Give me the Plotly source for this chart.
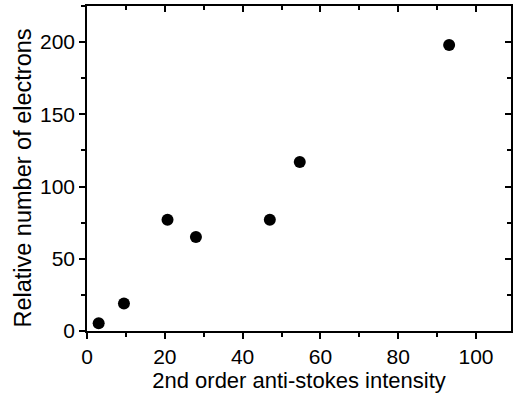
import plotly.graph_objects as go

x_intensity = [3, 9.5, 20.7, 28, 47, 54.7, 93.1]
y_electrons = [5.3, 19, 77, 65, 77, 117, 198]

fig = go.Figure()
fig.add_trace(go.Scatter(x=x_intensity, y=y_electrons, mode="markers",
                         marker=dict(color="black", size=12), showlegend=False))
# invisible trace for mirror axes
fig.add_trace(go.Scatter(x=[None], y=[None], xaxis="x2", yaxis="y2", showlegend=False))

font = dict(family="Liberation Sans, Arial, sans-serif", color="black")
common = dict(showgrid=False, zeroline=False, showline=True, linecolor="black", linewidth=1.5)

fig.update_layout(
    width=513, height=395,
    margin=dict(l=87, r=2, t=6, b=64),
    plot_bgcolor="white", paper_bgcolor="white",
    font=font,
    xaxis=dict(range=[0, 109], tickvals=[0, 20, 40, 60, 80, 100], ticks="outside",
               ticklen=6, tickwidth=1.5, tickcolor="black",
               minor=dict(dtick=10, ticks="outside", ticklen=4, tickwidth=1.5, tickcolor="black"),
               tickfont=dict(size=21), title=dict(text="2nd order anti-stokes intensity",
                                                 font=dict(size=22), standoff=3), **common),
    yaxis=dict(range=[0, 225], tickvals=[0, 50, 100, 150, 200], ticks="outside",
               ticklen=6, tickwidth=1.5, tickcolor="black",
               minor=dict(dtick=25, ticks="outside", ticklen=4, tickwidth=1.5, tickcolor="black"),
               tickfont=dict(size=21), **common),
    xaxis2=dict(range=[0, 109], overlaying="x", side="top", anchor="y",
                tickvals=[0, 20, 40, 60, 80, 100], ticks="inside", ticklen=6, tickwidth=1.5,
                tickcolor="black", showticklabels=False,
                minor=dict(dtick=10, ticks="inside", ticklen=4, tickwidth=1.5, tickcolor="black"),
                **common),
    yaxis2=dict(range=[0, 225], overlaying="y", side="right", anchor="x",
                tickvals=[0, 50, 100, 150, 200], ticks="inside", ticklen=6, tickwidth=1.5,
                tickcolor="black", showticklabels=False,
                minor=dict(dtick=25, ticks="inside", ticklen=4, tickwidth=1.5, tickcolor="black"),
                **common),
    annotations=[dict(text="Relative number of electrons", textangle=-90,
                      xref="paper", yref="paper", x=-0.151, y=0.472,
                      xanchor="center", yanchor="middle", showarrow=False,
                      font=dict(size=23.5))],
)
fig.write_html("out.html")
